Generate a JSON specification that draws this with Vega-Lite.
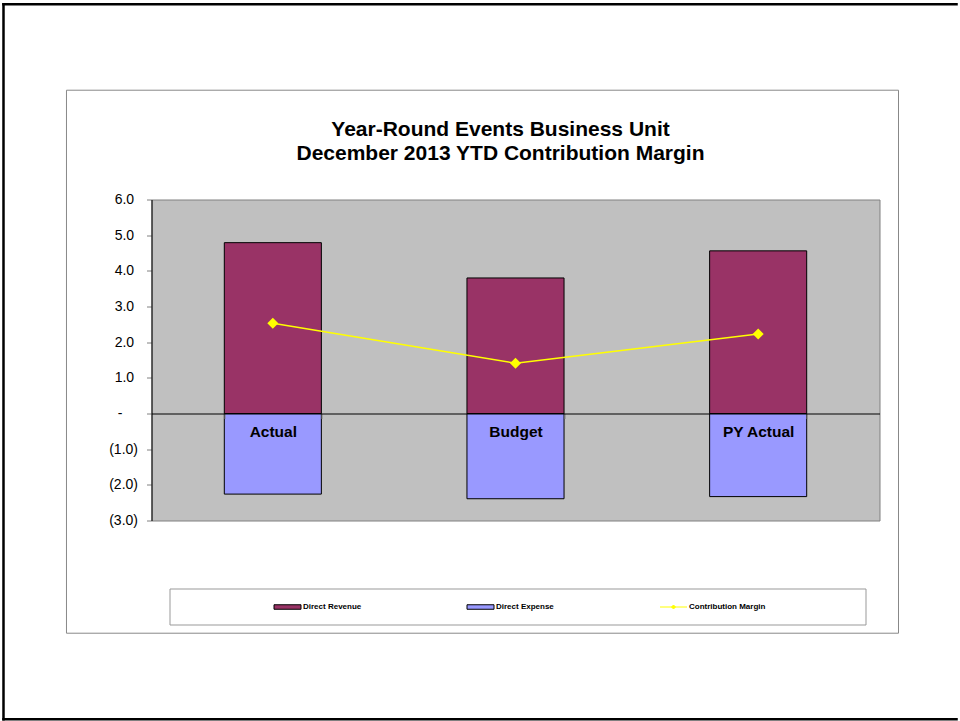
{
  "$schema": "https://vega.github.io/schema/vega-lite/v6.json",
  "width": 728,
  "height": 321,
  "padding": {"left": 1.5, "top": 1.5, "right": 0, "bottom": 0},
  "background": "white",
  "config": {
    "view": {"fill": "#C0C0C0", "stroke": "#808080", "strokeWidth": 1},
    "font": "Liberation Sans"
  },
  "title": {
    "text": ["Year-Round Events Business Unit", "December 2013 YTD Contribution Margin"],
    "font": "Liberation Sans",
    "fontSize": 21,
    "fontWeight": "bold",
    "color": "black",
    "anchor": "middle",
    "frame": "group",
    "lineHeight": 24,
    "offset": 0,
    "dx": -15,
    "dy": 162
  },
  "data": {
    "values": [
      {"category": "Actual", "series": "Direct Revenue", "value": 4.79},
      {"category": "Actual", "series": "Direct Expense", "value": -2.26},
      {"category": "Actual", "series": "Contribution Margin", "value": 2.53},
      {"category": "Budget", "series": "Direct Revenue", "value": 3.80},
      {"category": "Budget", "series": "Direct Expense", "value": -2.39},
      {"category": "Budget", "series": "Contribution Margin", "value": 1.41},
      {"category": "PY Actual", "series": "Direct Revenue", "value": 4.56},
      {"category": "PY Actual", "series": "Direct Expense", "value": -2.33},
      {"category": "PY Actual", "series": "Contribution Margin", "value": 2.23}
    ]
  },
  "layer": [
    {
      "data": {"values": [{"frame": "chart"}]},
      "layer": [
        {
          "mark": {"type": "rect", "filled": false, "stroke": "#888888", "strokeWidth": 1},
          "encoding": {
            "x": {"datum": -0.1168, "type": "quantitative", "scale": {"domain": [0, 1], "nice": false, "zero": false}, "axis": null},
            "x2": {"datum": 1.0261},
            "y": {"datum": 9.064, "type": "quantitative", "scale": {"domain": [-3, 6], "nice": false, "zero": false}, "axis": null},
            "y2": {"datum": -6.160}
          }
        },
        {
          "mark": {"type": "rule", "color": "black", "strokeWidth": 2.5, "strokeCap": "square"},
          "encoding": {
            "x": {"datum": -0.2033, "type": "quantitative", "scale": {"domain": [0, 1], "nice": false, "zero": false}, "axis": null},
            "x2": {"datum": 1.1058},
            "y": {"datum": 11.476, "type": "quantitative", "scale": {"domain": [-3, 6], "nice": false, "zero": false}, "axis": null}
          }
        },
        {
          "mark": {"type": "rule", "color": "black", "strokeWidth": 2.5, "strokeCap": "square"},
          "encoding": {
            "x": {"datum": -0.2033, "type": "quantitative", "scale": {"domain": [0, 1], "nice": false, "zero": false}, "axis": null},
            "x2": {"datum": 1.1058},
            "y": {"datum": -8.571, "type": "quantitative", "scale": {"domain": [-3, 6], "nice": false, "zero": false}, "axis": null}
          }
        },
        {
          "mark": {"type": "rule", "color": "black", "strokeWidth": 2.5, "strokeCap": "square"},
          "encoding": {
            "x": {"datum": -0.2033, "type": "quantitative", "scale": {"domain": [0, 1], "nice": false, "zero": false}, "axis": null},
            "y": {"datum": 11.476, "type": "quantitative", "scale": {"domain": [-3, 6], "nice": false, "zero": false}, "axis": null},
            "y2": {"datum": -8.571}
          }
        }
      ]
    },
    {
      "layer": [
        {
          "transform": [{"filter": "datum.series !== 'Contribution Margin'"}],
          "mark": {"type": "bar", "stroke": "black", "strokeWidth": 1},
          "encoding": {
            "x": {
              "field": "category", "type": "nominal",
              "sort": ["Actual", "Budget", "PY Actual"],
              "scale": {"paddingInner": 0.6, "paddingOuter": 0.3},
              "axis": {
                "orient": "bottom", "offset": -107, "title": null, "zindex": 1,
                "domainColor": "black", "domainWidth": 1,
                "ticks": true, "tickBand": "extent", "tickColor": "#808080", "tickSize": 5,
                "labelFont": "Liberation Sans", "labelFontSize": 15.5, "labelFontWeight": "bold",
                "labelColor": "black", "labelPadding": 6, "labelAngle": 0, "grid": false
              }
            },
            "y": {
              "field": "value", "type": "quantitative", "stack": null,
              "scale": {"domain": [-3, 6], "nice": false, "zero": false},
              "axis": {
                "title": null,
                "values": [-3, -2, -1, 0, 1, 2, 3, 4, 5, 6],
                "tickCount": 20,
                "labelOverlap": false,
                "labelExpr": "datum.value == 0 ? '-\u00a0\u00a0\u00a0\u00a0\u200b' : (datum.value < 0 ? '(' + format(-datum.value, '.1f') + ')' : format(datum.value, '.1f') + '\u00a0\u200b')",
                "domainColor": "black", "domainWidth": 1,
                "tickColor": "#808080", "tickSize": 5,
                "labelFont": "Liberation Sans", "labelFontSize": 14, "labelColor": "black",
                "labelPadding": 9, "grid": false
              }
            },
            "color": {
              "field": "series", "type": "nominal",
              "scale": {
                "domain": ["Direct Revenue", "Direct Expense", "Contribution Margin"],
                "range": ["#993366", "#9999FF", "#FFFF00"]
              }
            }
          }
        },
        {
          "transform": [{"filter": "datum.series === 'Contribution Margin'"}],
          "mark": {"type": "line", "color": "#FFFF00", "strokeWidth": 1.5},
          "encoding": {
            "x": {"field": "category", "type": "nominal", "sort": ["Actual", "Budget", "PY Actual"]},
            "y": {"field": "value", "type": "quantitative", "scale": {"domain": [-3, 6], "nice": false, "zero": false}}
          }
        },
        {
          "transform": [{"filter": "datum.series === 'Contribution Margin'"}],
          "mark": {"type": "point", "shape": "diamond", "filled": true, "size": 121, "color": "#FFFF00", "opacity": 1},
          "encoding": {
            "x": {"field": "category", "type": "nominal", "sort": ["Actual", "Budget", "PY Actual"]},
            "y": {"field": "value", "type": "quantitative", "scale": {"domain": [-3, 6], "nice": false, "zero": false}}
          }
        },
        {
          "mark": {"type": "point", "filled": true, "size": 100, "opacity": 0},
          "encoding": {
            "x": {"field": "category", "type": "nominal", "sort": ["Actual", "Budget", "PY Actual"]},
            "y": {"field": "value", "type": "quantitative", "scale": {"domain": [-3, 6], "nice": false, "zero": false}},
            "color": {
              "field": "series", "type": "nominal",
              "scale": {
                "domain": ["Direct Revenue", "Direct Expense", "Contribution Margin"],
                "range": ["#993366", "#9999FF", "#FFFF00"]
              },
              "legend": {
                "orient": "none", "legendX": 18, "legendY": 389,
                "direction": "horizontal",
                "title": "\u00a0", "titleOrient": "left", "titlePadding": 90, "titleFontSize": 8,
                "strokeColor": "#999999", "fillColor": "white", "padding": 13,
                "labelFont": "Liberation Sans", "labelFontSize": 8, "labelFontWeight": "bold",
                "labelColor": "black", "labelOffset": 10, "labelLimit": 500,
                "labelExpr": "datum.value === 'Contribution Margin' ? pad(datum.label, 58, '\u00a0') + '\u200b' : datum.label",
                "symbolSize": 100, "symbolStrokeWidth": 1, "symbolOpacity": 1, "symbolOffset": 9.5,
                "columnPadding": 103, "gridAlign": "none"
              }
            },
            "shape": {
              "field": "series", "type": "nominal",
              "scale": {
                "domain": ["Direct Revenue", "Direct Expense", "Contribution Margin"],
                "range": ["M-2.7,-0.45H2.7V0.45H-2.7Z", "M-2.7,-0.45H2.7V0.45H-2.7Z", "M-2.7,0H2.7M-0.4,0L0,-0.4L0.4,0L0,0.4Z"]
              }
            },
            "stroke": {
              "field": "series", "type": "nominal",
              "scale": {
                "domain": ["Direct Revenue", "Direct Expense", "Contribution Margin"],
                "range": ["#000000", "#000000", "#FFFF00"]
              }
            }
          }
        }
      ]
    }
  ],
  "resolve": {"scale": {"x": "independent", "y": "independent"}}
}
